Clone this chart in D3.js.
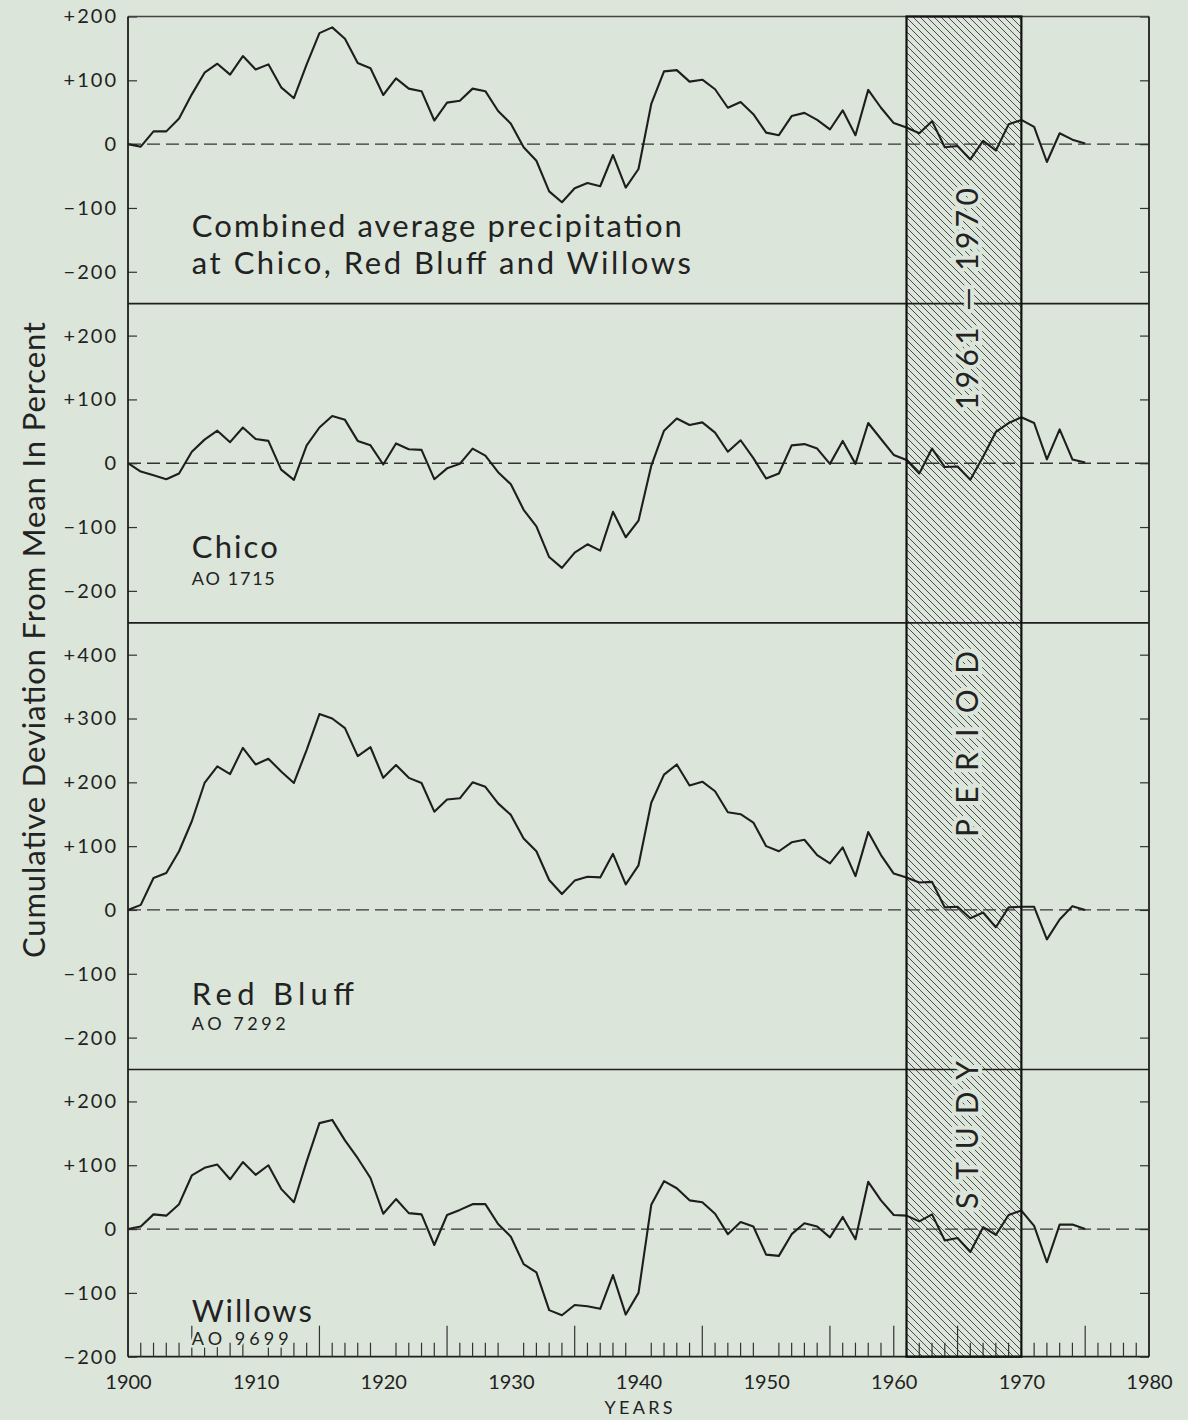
<!DOCTYPE html>
<html>
<head>
<meta charset="utf-8">
<script src="https://cdn.jsdelivr.net/npm/d3@7/dist/d3.min.js"></script>
<style>
  body { margin: 0; background: #dce5da; }
  svg { display: block; }
  text { font-family: Lato, "Open Sans", sans-serif; fill: #222; }
</style>
</head>
<body>
<div id="chart"></div>
<script>
// cumulative deviation from mean, percent, one value per year 1900-1975
var years = d3.range(1900, 1976);

var combined = [0, -4, 20, 20, 40, 78, 112, 126, 109, 138,
  117, 125, 89, 72, 125, 174, 183, 165, 127, 119,
  77, 103, 87, 83, 37, 65, 68, 87, 83, 52,
  32, -5, -26, -74, -91, -69, -61, -66, -17, -68,
  -39, 63, 114, 116, 98, 101, 86, 57, 66, 47,
  18, 14, 44, 49, 38, 23, 53, 14, 85, 57,
  33, 26, 17, 36, -5, -3, -24, 5, -10, 31,
  38, 27, -28, 17, 7, 1];

var chico = [0, -13, -19, -25, -16, 18, 37, 51, 33, 56,
  38, 35, -10, -26, 28, 56, 74, 68, 35, 28,
  -2, 31, 22, 21, -25, -8, -1, 23, 12, -14,
  -33, -73, -99, -147, -164, -140, -127, -137, -76, -116,
  -90, -4, 51, 70, 60, 64, 48, 18, 36, 8,
  -24, -16, 28, 30, 23, -1, 35, -1, 63, 38,
  13, 5, -16, 23, -6, -5, -26, 10, 49, 63,
  72, 63, 6, 53, 6, 1];

var redBluff = [0, 8, 50, 58, 92, 139, 199, 225, 213, 254,
  228, 237, 217, 199, 251, 307, 300, 285, 241, 255,
  207, 227, 207, 199, 154, 173, 175, 200, 193, 167,
  149, 112, 92, 47, 25, 46, 52, 51, 88, 40,
  70, 168, 212, 228, 195, 201, 186, 153, 150, 137,
  100, 92, 106, 110, 86, 73, 98, 53, 122, 86,
  57, 51, 43, 44, 4, 5, -13, -4, -27, 4,
  5, 5, -46, -15, 6, 0];

var willows = [0, 4, 23, 21, 39, 84, 96, 101, 78, 105,
  85, 100, 63, 42, 106, 166, 171, 139, 111, 80,
  24, 47, 25, 23, -25, 22, 30, 39, 39, 8,
  -12, -55, -68, -127, -135, -119, -121, -125, -72, -134,
  -100, 38, 75, 64, 45, 42, 24, -8, 11, 4,
  -40, -42, -8, 9, 4, -13, 19, -16, 74, 45,
  22, 21, 12, 23, -18, -14, -36, 3, -9, 22,
  29, 5, -52, 7, 7, 0];

var series = [combined, chico, redBluff, willows];
var panelTitles = [["Combined average precipitation", "at Chico, Red Bluff and Willows"],
  ["Chico"], ["Red Bluff"], ["Willows"]];
var stationCodes = [null, "AO 1715", "AO 7292", "AO 9699"];
var panelDomains = [[-250, 200], [-250, 250], [-250, 450], [-200, 250]];
var panelTicks = [[200, 100, 0, -100, -200], [200, 100, 0, -100, -200],
  [400, 300, 200, 100, 0, -100, -200], [200, 100, 0, -100, -200]];
var decadeLabels = d3.range(1900, 1981, 10);
var studyPeriod = [1961, 1970];
var studyWords = ["1961 — 1970", "PERIOD", "STUDY"];

// layout
var W = 1188, H = 1420;
var plotLeft = 128, plotRight = 1149, plotTop = 16.5, plotBottom = 1356.7;
var bg = "#dce5da", ink = "#1e1e1e";

var svg = d3.select("#chart").append("svg")
  .attr("width", W).attr("height", H);

svg.append("rect").attr("width", W).attr("height", H).attr("fill", bg);

var defs = svg.append("defs");
defs.append("pattern")
  .attr("id", "hatch")
  .attr("patternUnits", "userSpaceOnUse")
  .attr("width", 7).attr("height", 7)
  .append("path")
  .attr("d", "M-1,-1 L8,8 M-1,6 L1,8 M6,-1 L8,1")
  .attr("stroke", "#3a3a3a").attr("stroke-width", 0.9);

var x = d3.scaleLinear().domain([1900, 1980]).range([plotLeft, plotRight]);

// one vertical unit for all panels
var totalUnits = d3.sum(panelDomains, function(d) { return d[1] - d[0]; });
var pxPerUnit = (plotBottom - plotTop) / totalUnits;

var offset = plotTop;
var yScales = panelDomains.map(function(d) {
  var y0 = offset, y1 = offset + (d[1] - d[0]) * pxPerUnit;
  offset = y1;
  return d3.scaleLinear().domain(d).range([y1, y0]);
});

// study period hatch
var hatchX0 = x(studyPeriod[0]), hatchX1 = x(studyPeriod[1]);
svg.append("rect")
  .attr("x", hatchX0).attr("y", plotTop)
  .attr("width", hatchX1 - hatchX0).attr("height", plotBottom - plotTop)
  .attr("fill", "url(#hatch)");

var fmt = function(d) { return d > 0 ? "+" + d : d < 0 ? "\u2212" + (-d) : "0"; };

var line = d3.line()
  .x(function(d, i) { return x(years[i]); })
  .y(function(d) { return d; });

yScales.forEach(function(y, p) {
  // zero line
  svg.append("line")
    .attr("x1", plotLeft).attr("x2", plotRight)
    .attr("y1", y(0)).attr("y2", y(0))
    .attr("stroke", "#333").attr("stroke-width", 1.3)
    .attr("stroke-dasharray", "13,6");

  // panel bottom border / separator
  svg.append("line")
    .attr("x1", plotLeft).attr("x2", plotRight)
    .attr("y1", y.range()[0]).attr("y2", y.range()[0])
    .attr("stroke", ink).attr("stroke-width", 1.7);

  // labels on the left
  var gl = svg.append("g")
    .attr("transform", "translate(" + plotLeft + ",0)")
    .call(d3.axisLeft(y).tickValues(panelTicks[p]).tickSize(0).tickPadding(10).tickFormat(fmt));
  gl.select(".domain").remove();
  gl.attr("font-size", 20).attr("font-family", "Lato, sans-serif");
  gl.selectAll("text").style("fill", "#222").style("letter-spacing", "2px");

  // inner ticks
  var gi = svg.append("g")
    .attr("transform", "translate(" + plotLeft + ",0)")
    .call(d3.axisRight(y).tickValues(panelTicks[p]).tickSize(9).tickFormat(""));
  gi.select(".domain").remove();
  gi.selectAll("line").attr("stroke", "#333").attr("stroke-width", 1.2);

  var gr = svg.append("g")
    .attr("transform", "translate(" + plotRight + ",0)")
    .call(d3.axisLeft(y).tickValues(panelTicks[p]).tickSize(9).tickFormat(""));
  gr.select(".domain").remove();
  gr.selectAll("line").attr("stroke", "#333").attr("stroke-width", 1.2);

  // data line
  svg.append("path")
    .attr("d", line(series[p].map(function(v) { return y(v); })))
    .attr("fill", "none")
    .attr("stroke", ink)
    .attr("stroke-width", 2.1)
    .attr("stroke-linejoin", "round");
});

// frame
svg.append("line").attr("x1", plotLeft).attr("x2", plotRight).attr("y1", plotTop).attr("y2", plotTop)
  .attr("stroke", "#444").attr("stroke-width", 1.3);
svg.append("line").attr("x1", plotLeft).attr("x2", plotLeft).attr("y1", plotTop).attr("y2", plotBottom)
  .attr("stroke", ink).attr("stroke-width", 1.8);
svg.append("line").attr("x1", plotRight).attr("x2", plotRight).attr("y1", plotTop).attr("y2", plotBottom)
  .attr("stroke", ink).attr("stroke-width", 1.8);

// yearly ticks on the bottom axis
var yearTicks = d3.range(1901, 1980).filter(function(d) { return d % 10 !== 0 || d === 1960; });
svg.append("g").selectAll("line")
  .data(yearTicks)
  .enter().append("line")
  .attr("x1", function(d) { return x(d); })
  .attr("x2", function(d) { return x(d); })
  .attr("y1", plotBottom)
  .attr("y2", function(d) { return d % 5 === 0 ? plotBottom - 31 : plotBottom - 14; })
  .attr("stroke", "#333").attr("stroke-width", 1.2);

var gx = svg.append("g")
  .attr("transform", "translate(0," + plotBottom + ")")
  .call(d3.axisBottom(x).tickValues(decadeLabels).tickSize(0).tickPadding(18).tickFormat(d3.format("d")));
gx.select(".domain").remove();
gx.attr("font-size", 20).attr("font-family", "Lato, sans-serif");
gx.selectAll("text").style("fill", "#222");

svg.append("text")
  .attr("x", x(1940)).attr("y", 1414)
  .attr("text-anchor", "middle")
  .attr("font-size", 18)
  .attr("textLength", 68)
  .text("YEARS");

// hatch border
svg.append("rect")
  .attr("x", hatchX0).attr("y", plotTop)
  .attr("width", hatchX1 - hatchX0).attr("height", plotBottom - plotTop)
  .attr("fill", "none").attr("stroke", "#111").attr("stroke-width", 2.2);

// panel titles
var titleSpans = [[490, 499], [86], [162], [120]];
var titleValues = [[-145, -204], [-149], [-149], [-146]];
var codeSpans = [0, 83, 94, 97];
var codeValues = [0, -191, -188, -182];

yScales.forEach(function(y, p) {
  panelTitles[p].forEach(function(t, k) {
    svg.append("text")
      .attr("x", x(1905)).attr("y", y(titleValues[p][k]))
      .attr("font-size", 31)
      .attr("textLength", titleSpans[p][k])
      .attr("stroke", bg).attr("stroke-width", 5).attr("paint-order", "stroke")
      .text(t);
  });
  if (stationCodes[p]) {
    svg.append("text")
      .attr("x", x(1905)).attr("y", y(codeValues[p]))
      .attr("font-size", 18)
      .attr("textLength", codeSpans[p])
      .attr("stroke", bg).attr("stroke-width", 5).attr("paint-order", "stroke")
      .text(stationCodes[p]);
  }
});

// vertical words inside the study period
var wordCentres = [299, 744, 1135];
var wordSpans = [222, 186, 148];
studyWords.forEach(function(w, i) {
  svg.append("text")
    .attr("transform", "translate(978," + wordCentres[i] + ") rotate(-90)")
    .attr("text-anchor", "middle")
    .attr("font-size", 30)
    .attr("textLength", wordSpans[i])
    .attr("lengthAdjust", "spacing")
    .attr("stroke", bg).attr("stroke-width", 8).attr("paint-order", "stroke")
    .text(w);
});

// y axis title
svg.append("text")
  .attr("transform", "translate(45,640) rotate(-90)")
  .attr("text-anchor", "middle")
  .attr("font-size", 31)
  .attr("textLength", 636)
  .attr("lengthAdjust", "spacing")
  .text("Cumulative Deviation From Mean In Percent");
</script>
</body>
</html>
